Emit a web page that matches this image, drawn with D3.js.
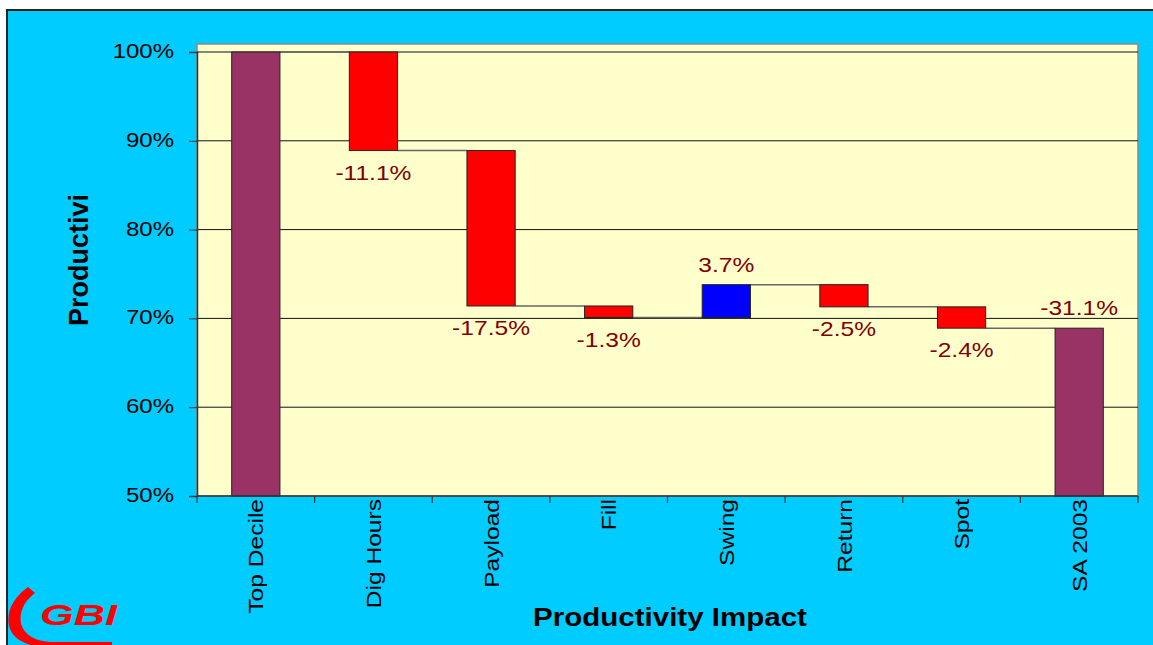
<!DOCTYPE html>
<html>
<head>
<meta charset="utf-8">
<script src="https://cdn.jsdelivr.net/npm/d3@7"></script>
<style>
  html, body { margin: 0; padding: 0; background: #ffffff; }
  svg { display: block; }
  text { font-family: "Liberation Sans", Arial, sans-serif; }
</style>
</head>
<body>
<svg id="chart" width="1153" height="645"></svg>
<script>
// Waterfall: productivity from the top-decile benchmark down to SA 2003
const categories = ["Top Decile", "Dig Hours", "Payload", "Fill", "Swing", "Return", "Spot", "SA 2003"];
const startValue = 100;                              // Top Decile (%)
const changes = [-11.1, -17.5, -1.3, 3.7, -2.5, -2.4]; // step impacts (% points)
const yTicks = [50, 60, 70, 80, 90, 100];
const axisFloor = 50;

const W = 1153, H = 645;
const plot = { left: 197, right: 1138, top: 44, bottom: 496 };
const colors = { total: "#993366", down: "#FF0000", up: "#0000FF" };
const stretch = 1.17; // wide letterforms of the original typeface

const svg = d3.select("#chart");
const pct = v => v.toFixed(1) + "%";

// Build bar segments from the running total
const bars = [];
let level = startValue;
bars.push({ cat: categories[0], lo: axisFloor, hi: startValue, end: startValue, kind: "total", label: null });
changes.forEach((c, i) => {
  const next = +(level + c).toFixed(1);
  bars.push({ cat: categories[i + 1], lo: Math.min(level, next), hi: Math.max(level, next), end: next,
              kind: c < 0 ? "down" : "up", label: pct(c) });
  level = next;
});
bars.push({ cat: categories[categories.length - 1], lo: axisFloor, hi: level, end: level, kind: "total",
            label: pct(level - startValue) });

const x = d3.scaleBand().domain(categories).range([plot.left, plot.right])
  .paddingInner(0.59).paddingOuter(0.295);
const y = d3.scaleLinear().domain([axisFloor, 100]).range([plot.bottom, 52]);

function widen(sel, k) {
  sel.each(function () {
    const w = this.getComputedTextLength();
    d3.select(this).attr("textLength", w * k).attr("lengthAdjust", "spacingAndGlyphs");
  });
}

// Outer panel
svg.append("rect").attr("x", 7).attr("y", 10).attr("width", W + 10).attr("height", H + 10)
  .attr("fill", "#00CCFF").attr("stroke", "#222").attr("stroke-width", 2);

// Plot area
svg.append("rect").attr("x", plot.left).attr("y", plot.top)
  .attr("width", plot.right - plot.left).attr("height", plot.bottom - plot.top)
  .attr("fill", "#FFFFCC").attr("stroke", "#8a8a8a").attr("stroke-width", 1.5);

// Gridlines
svg.append("g").selectAll("line").data(yTicks.filter(t => t > axisFloor)).join("line")
  .attr("x1", plot.left).attr("x2", plot.right)
  .attr("y1", d => y(d)).attr("y2", d => y(d))
  .attr("stroke", "#111").attr("stroke-width", 1);

// Connectors between consecutive bars
const conn = [];
for (let i = 0; i < bars.length - 1; i++) {
  conn.push({ x1: x(bars[i].cat) + x.bandwidth(), x2: x(bars[i + 1].cat), v: bars[i].end });
}
svg.append("g").selectAll("line").data(conn).join("line")
  .attr("x1", d => d.x1).attr("x2", d => d.x2)
  .attr("y1", d => y(d.v)).attr("y2", d => y(d.v))
  .attr("stroke", "#666").attr("stroke-width", 1.5);

// Bars
svg.append("g").selectAll("rect").data(bars).join("rect")
  .attr("x", d => x(d.cat)).attr("width", x.bandwidth())
  .attr("y", d => y(d.hi)).attr("height", d => y(d.lo) - y(d.hi))
  .attr("fill", d => colors[d.kind]).attr("stroke", "#222").attr("stroke-width", 1);

// Value labels
svg.append("g").selectAll("text").data(bars.filter(d => d.label)).join("text")
  .attr("x", d => x(d.cat) + x.bandwidth() / 2)
  .attr("y", d => d.kind === "down" ? y(d.end) + 29 : y(d.hi) - 13)
  .attr("text-anchor", "middle").attr("font-size", 21).attr("fill", "#800000")
  .text(d => d.label)
  .call(widen, stretch);

// Y axis
const yAxis = svg.append("g").attr("transform", `translate(${plot.left},0)`)
  .call(d3.axisLeft(y).tickValues(yTicks).tickFormat(d => d + "%").tickSize(8).tickPadding(15));
yAxis.select(".domain").attr("stroke", "#333").attr("stroke-width", 1.5);
yAxis.selectAll(".tick line").attr("stroke", "#333");
yAxis.selectAll(".tick text").attr("font-size", 20.5).attr("fill", "#000")
  .attr("font-family", "Liberation Sans, Arial, sans-serif").attr("dy", "0.27em")
  .call(widen, stretch);

// X axis baseline and band-boundary ticks
svg.append("line").attr("x1", plot.left).attr("x2", plot.right)
  .attr("y1", plot.bottom).attr("y2", plot.bottom).attr("stroke", "#333").attr("stroke-width", 1.5);
const bounds = categories.map(c => x(c) - x.step() * x.paddingInner() / 2);
bounds.push(plot.right);
svg.append("g").selectAll("line").data(bounds).join("line")
  .attr("x1", d => d).attr("x2", d => d)
  .attr("y1", plot.bottom).attr("y2", plot.bottom + 7)
  .attr("stroke", "#333").attr("stroke-width", 1.2);

// Category labels, rotated
svg.append("g").selectAll("text").data(categories).join("text")
  .attr("transform", d => `translate(${x(d) + x.bandwidth() / 2},${plot.bottom + 3}) rotate(-90)`)
  .attr("text-anchor", "end").attr("dy", "0.36em")
  .attr("font-size", 21).attr("fill", "#000")
  .text(d => d)
  .call(widen, stretch);

// Axis titles
svg.append("text").attr("transform", "translate(88,260) rotate(-90)")
  .attr("text-anchor", "middle").attr("font-size", 27).attr("font-weight", "bold")
  .text("Productivi");
svg.append("text").attr("x", 670).attr("y", 626)
  .attr("text-anchor", "middle").attr("font-size", 25).attr("font-weight", "bold")
  .text("Productivity Impact")
  .call(widen, 1.18);

// GBI mark
svg.append("path")
  .attr("d", "M28,587 L35,593 Q18,606 21,624 Q26,640 50,642 L112,642 L112,647 L45,647 Q14,645 9,626 Q5,604 28,587 Z")
  .attr("fill", "#FF0000");
svg.append("text").attr("x", 40).attr("y", 625)
  .attr("font-size", 30).attr("font-weight", "bold").attr("font-style", "italic")
  .attr("fill", "#FF0000").attr("textLength", 77).attr("lengthAdjust", "spacingAndGlyphs")
  .text("GBI");
</script>
</body>
</html>
